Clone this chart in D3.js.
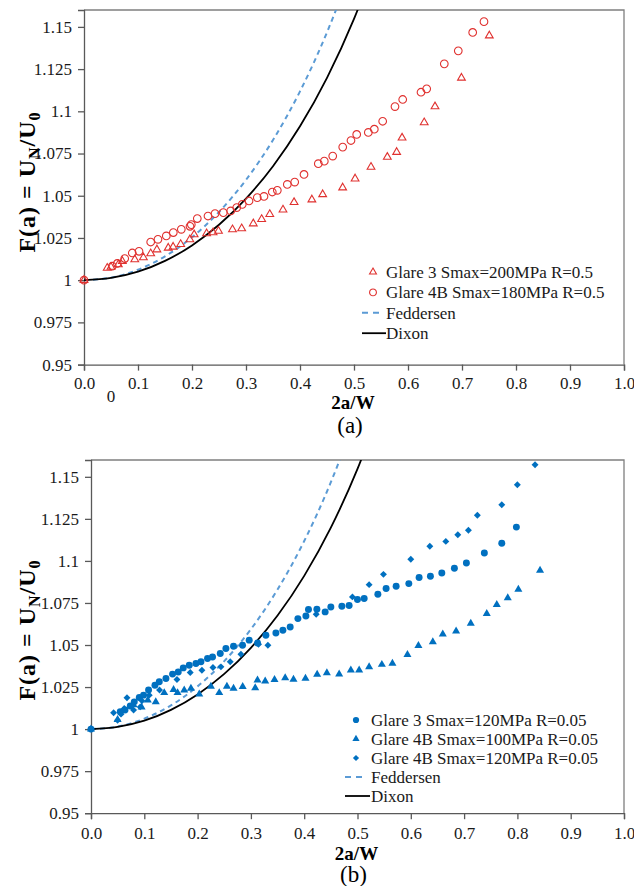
<!DOCTYPE html>
<html>
<head>
<meta charset="utf-8">
<script src="https://cdn.jsdelivr.net/npm/d3@7"></script>
<style>
  html, body { margin: 0; padding: 0; background: #fff; }
  svg { display: block; }
  svg text { font-family: "Liberation Serif", "Times New Roman", Tinos, "DejaVu Serif", serif; }
</style>
</head>
<body>
<script>
// ---- shared axis data ----
const xTicks = [0, 0.1, 0.2, 0.3, 0.4, 0.5, 0.6, 0.7, 0.8, 0.9, 1.0];
const yTicks = [0.95, 0.975, 1, 1.025, 1.05, 1.075, 1.1, 1.125, 1.15];
const yTickLabels = ["0.95", "0.975", "1", "1.025", "1.05", "1.075", "1.1", "1.125", "1.15"];

// ---- reference curves (2a/W, F) ----
const curveX = [0, 0.05, 0.1, 0.15, 0.2, 0.25, 0.3, 0.35, 0.4, 0.45, 0.5, 0.55];
const dixonY = [1, 1.0013, 1.0050, 1.0114, 1.0206, 1.0328, 1.0483, 1.0675, 1.0911, 1.1198, 1.1547, 1.1974];
const feddersenY = [1, 1.0015, 1.0062, 1.0141, 1.0254, 1.0404, 1.0594, 1.0830, 1.1118, 1.1468, 1.1892, 1.2400];

// ---- panel (a): R = 0.5 ----
const glare3_200 = [
  [0, 1.000], [0.043, 1.0072], [0.050, 1.0078], [0.0635, 1.0093], [0.071, 1.0112], [0.094, 1.0122],
  [0.110, 1.0134], [0.1235, 1.0158], [0.135, 1.0181], [0.156, 1.0191], [0.165, 1.0197], [0.179, 1.0213],
  [0.196, 1.0241], [0.204, 1.0270], [0.227, 1.0276], [0.239, 1.0282], [0.249, 1.0291], [0.275, 1.0300],
  [0.292, 1.0306], [0.3135, 1.0335], [0.329, 1.0361], [0.344, 1.0390], [0.3685, 1.0417], [0.389, 1.0461],
  [0.422, 1.0477], [0.442, 1.0508], [0.479, 1.0548], [0.502, 1.0601], [0.5315, 1.0670], [0.5617, 1.0729],
  [0.579, 1.0758], [0.589, 1.0843], [0.630, 1.0934], [0.650, 1.1028], [0.699, 1.1198], [0.7506, 1.1448]
];
const glare4B_180 = [
  [0, 1.000], [0.0524, 1.0083], [0.0617, 1.0099], [0.0754, 1.0128], [0.0894, 1.0161], [0.1019, 1.0171],
  [0.1235, 1.0226], [0.137, 1.0242], [0.1524, 1.0262], [0.1654, 1.0282], [0.1802, 1.0301], [0.1963, 1.0319],
  [0.1987, 1.0329], [0.2098, 1.0365], [0.2296, 1.0380], [0.2426, 1.0394], [0.258, 1.0400], [0.2717, 1.0410],
  [0.2828, 1.0430], [0.2931, 1.0449], [0.3056, 1.0469], [0.3209, 1.0489], [0.3333, 1.0496], [0.3487, 1.0522],
  [0.358, 1.0532], [0.3765, 1.0567], [0.3902, 1.0581], [0.4074, 1.0626], [0.4339, 1.0690], [0.445, 1.0705],
  [0.4606, 1.0735], [0.4791, 1.0788], [0.4944, 1.0827], [0.505, 1.0863], [0.5265, 1.0875], [0.5376, 1.0894],
  [0.5531, 1.0941], [0.5759, 1.1028], [0.5902, 1.1070], [0.6241, 1.1113], [0.6346, 1.1133], [0.6672, 1.1281],
  [0.6931, 1.1358], [0.7198, 1.1467], [0.7407, 1.1531]
];

// ---- panel (b): R = 0.05 ----
const glare3_120 = [
  [0, 1.000], [0.0549, 1.0103], [0.0638, 1.0113], [0.0737, 1.0137], [0.0812, 1.0162], [0.0906, 1.0188],
  [0.0986, 1.0202], [0.108, 1.0232], [0.120, 1.0261], [0.1281, 1.0281], [0.1406, 1.0301], [0.153, 1.0327],
  [0.1637, 1.0340], [0.1731, 1.0364], [0.1843, 1.0380], [0.1969, 1.0390], [0.2063, 1.0400], [0.2186, 1.0420],
  [0.228, 1.0429], [0.2425, 1.0450], [0.2531, 1.0479], [0.2674, 1.0493], [0.2843, 1.0499], [0.2968, 1.0529],
  [0.3124, 1.0512], [0.3281, 1.0558], [0.3469, 1.0572], [0.360, 1.0588], [0.3737, 1.0607], [0.3882, 1.0657],
  [0.4032, 1.0673], [0.408, 1.0711], [0.4238, 1.0713], [0.4393, 1.0697], [0.450, 1.0726], [0.4707, 1.0730],
  [0.4843, 1.0735], [0.4999, 1.0770], [0.5125, 1.0776], [0.5382, 1.0802], [0.5537, 1.0836], [0.5725, 1.0849],
  [0.5963, 1.0865], [0.6156, 1.0901], [0.6368, 1.0909], [0.6582, 1.0928], [0.6818, 1.0956], [0.7043, 1.0988],
  [0.738, 1.1047], [0.7707, 1.1105], [0.7981, 1.1201]
];
const glare4B_100 = [
  [0, 1.000], [0.0499, 1.0056], [0.0799, 1.0143], [0.0949, 1.0131], [0.1065, 1.0172], [0.1215, 1.0162],
  [0.1374, 1.0216], [0.1549, 1.0235], [0.1624, 1.0216], [0.1749, 1.0232], [0.1875, 1.0242], [0.2031, 1.0208],
  [0.225, 1.0254], [0.2406, 1.0216], [0.255, 1.0254], [0.2674, 1.0242], [0.2846, 1.0252], [0.3081, 1.0245],
  [0.3124, 1.0291], [0.3268, 1.0285], [0.3443, 1.0294], [0.3643, 1.0305], [0.3799, 1.0295], [0.4024, 1.0301],
  [0.4243, 1.0325], [0.4425, 1.0334], [0.4656, 1.0327], [0.4875, 1.0350], [0.5031, 1.0350], [0.5218, 1.0370],
  [0.5457, 1.0384], [0.5655, 1.0390], [0.5937, 1.0442], [0.6143, 1.0496], [0.6413, 1.0518], [0.660, 1.0564],
  [0.685, 1.0582], [0.7125, 1.0628], [0.7425, 1.0687], [0.7613, 1.0740], [0.7819, 1.0780], [0.8018, 1.0831],
  [0.8425, 1.0944]
];
const glare4B_120 = [
  [0, 1.000], [0.0424, 1.0097], [0.0499, 1.0053], [0.0563, 1.0089], [0.0624, 1.0123], [0.0675, 1.0186],
  [0.0799, 1.0113], [0.0924, 1.0132], [0.0956, 1.0168], [0.1093, 1.0202], [0.1286, 1.0232], [0.1613, 1.0295],
  [0.1862, 1.0337], [0.2081, 1.0350], [0.2288, 1.0366], [0.2438, 1.0370], [0.2612, 1.0400], [0.2813, 1.0445],
  [0.3143, 1.0505], [0.3319, 1.0499], [0.4225, 1.0683], [0.4905, 1.0786], [0.5218, 1.0859], [0.5487, 1.0920],
  [0.600, 1.1010], [0.6357, 1.1087], [0.6657, 1.1116], [0.6882, 1.1156], [0.7081, 1.1182], [0.7249, 1.1271],
  [0.7707, 1.1334], [0.7999, 1.1453], [0.8331, 1.1572]
];

const RED = "#e0312f";
const BLUE = "#0070c0";
const DASH_BLUE = "#5b9bd5";
const FONT = "\"Liberation Serif\", \"Times New Roman\", Tinos, \"DejaVu Serif\", serif";

const svg = d3.select("body").append("svg")
  .attr("width", 634).attr("height", 886)
  .attr("font-family", FONT);
svg.append("rect").attr("width", 634).attr("height", 886).attr("fill", "#fff");

const curvePts = (ys) => curveX.map((x, i) => [x, ys[i]]);

function drawPanel(cfg) {
  const x = d3.scaleLinear().domain([0, 1]).range([cfg.left, cfg.right]);
  const y = d3.scaleLinear().domain([0.95, 1.16]).range([cfg.bottom, cfg.top]);
  const g = svg.append("g");

  // frame (top and right)
  g.append("path")
    .attr("d", `M${cfg.left},${cfg.top}H${cfg.right}V${cfg.bottom}`)
    .attr("fill", "none").attr("stroke", "#7f7f7f").attr("stroke-width", 1.3);

  // axes
  const xAxis = g.append("g").attr("transform", `translate(0,${cfg.bottom})`)
    .call(d3.axisBottom(x).tickValues(xTicks).tickFormat(d3.format(".1f"))
      .tickSizeOuter(0).tickSize(6).tickPadding(cfg.xPad));
  const yAxis = g.append("g").attr("transform", `translate(${cfg.left},0)`)
    .call(d3.axisLeft(y).tickValues(yTicks).tickFormat((d, i) => yTickLabels[i])
      .tickSizeOuter(0).tickSize(6).tickPadding(6));
  [xAxis, yAxis].forEach(a => {
    a.attr("font-family", FONT);
    a.select(".domain").attr("stroke", "#595959").attr("stroke-width", 1.3);
    a.selectAll(".tick line").attr("stroke", "#595959").attr("stroke-width", 1.3);
    a.selectAll(".tick text").attr("fill", "#1a1a1a").attr("font-size", 17);
  });
  xAxis.selectAll(".tick text").attr("dy", "0.71em");

  // clip for curves
  const clipId = "clip-" + cfg.id;
  svg.append("clipPath").attr("id", clipId).append("rect")
    .attr("x", cfg.left).attr("y", cfg.top)
    .attr("width", cfg.right - cfg.left).attr("height", cfg.bottom - cfg.top);

  const line = d3.line().x(d => x(d[0])).y(d => y(d[1])).curve(d3.curveMonotoneX);
  const curves = g.append("g").attr("clip-path", `url(#${clipId})`);
  curves.append("path").attr("d", line(curvePts(feddersenY)))
    .attr("fill", "none").attr("stroke", DASH_BLUE).attr("stroke-width", 2)
    .attr("stroke-dasharray", "5,4");
  curves.append("path").attr("d", line(curvePts(dixonY)))
    .attr("fill", "none").attr("stroke", "#000").attr("stroke-width", 1.8);

  // markers
  cfg.series.forEach(s => {
    g.append("g").selectAll("path").data(s.data).join("path")
      .attr("d", d3.symbol().type(s.type).size(s.size))
      .attr("transform", d => `translate(${x(d[0])},${y(d[1])})` + (s.rotate ? " rotate(45)" : ""))
      .attr("fill", s.fill).attr("stroke", s.stroke).attr("stroke-width", s.sw || 0);
  });

  // legend
  const lg = g.append("g").attr("font-size", 17);
  cfg.series.forEach((s, i) => {
    const ly = cfg.legY + i * cfg.legStep;
    lg.append("path")
      .attr("d", d3.symbol().type(s.type).size(s.size * 0.8))
      .attr("transform", `translate(${cfg.legMarkX},${ly})` + (s.rotate ? " rotate(45)" : ""))
      .attr("fill", s.fill).attr("stroke", s.stroke).attr("stroke-width", s.sw || 0);
    lg.append("text").attr("x", cfg.legTextX).attr("y", ly).attr("dy", "0.35em")
      .attr("fill", "#1a1a1a").text(s.name);
  });
  const nS = cfg.series.length;
  const fy = cfg.legY + nS * cfg.legStep;
  const dy = fy + cfg.legStep;
  lg.append("line").attr("x1", cfg.legLineX0).attr("x2", cfg.legLineX1 - 4).attr("y1", fy).attr("y2", fy)
    .attr("stroke", DASH_BLUE).attr("stroke-width", 2).attr("stroke-dasharray", "6,5");
  lg.append("text").attr("x", cfg.legTextX).attr("y", fy).attr("dy", "0.35em").attr("fill", "#1a1a1a").text("Feddersen");
  lg.append("line").attr("x1", cfg.legLineX0).attr("x2", cfg.legLineX1).attr("y1", dy).attr("y2", dy)
    .attr("stroke", "#000").attr("stroke-width", 1.8);
  lg.append("text").attr("x", cfg.legTextX).attr("y", dy).attr("dy", "0.35em").attr("fill", "#1a1a1a").text("Dixon");

  // axis titles
  g.append("text").attr("x", (cfg.left + cfg.right) / 2 - 1).attr("y", cfg.xTitleY)
    .attr("text-anchor", "middle").attr("font-size", 19).attr("font-weight", "bold")
    .text("2a/W");
  g.append("text").attr("x", (cfg.left + cfg.right) / 2 - 4).attr("y", cfg.capY)
    .attr("text-anchor", "middle").attr("font-size", 23).text(cfg.caption);

  const yt = g.append("text")
    .attr("transform", `translate(${cfg.yTitleX},${cfg.yTitleY}) rotate(-90)`)
    .attr("text-anchor", "middle").attr("font-size", 24).attr("font-weight", "bold")
    .attr("letter-spacing", 1);
  yt.append("tspan").text("F(a) = U");
  yt.append("tspan").attr("dy", 5).attr("font-size", 16).text("N");
  yt.append("tspan").attr("dy", -5).text("/U");
  yt.append("tspan").attr("dy", 5).attr("font-size", 16).text("0");

  return { x, y, g };
}

const pa = drawPanel({
  id: "a", left: 84, right: 624, top: 10, bottom: 364.6, xPad: 6,
  xTitleY: 408.5, capY: 433, caption: "(a)", yTitleX: 35, yTitleY: 182,
  legY: 272, legStep: 20.4, legMarkX: 373, legTextX: 386, legLineX0: 362, legLineX1: 386,
  series: [
    { name: "Glare 3 Smax=200MPa R=0.5", data: glare3_200, type: d3.symbolTriangle, size: 26,
      fill: "none", stroke: RED, sw: 1.1 },
    { name: "Glare 4B Smax=180MPa R=0.5", data: glare4B_180, type: d3.symbolCircle, size: 46,
      fill: "none", stroke: RED, sw: 1.1 }
  ]
});
// stray axis label under the origin
pa.g.append("text").attr("x", 111).attr("y", 402).attr("text-anchor", "middle")
  .attr("font-size", 17).attr("fill", "#1a1a1a").text("0");

drawPanel({
  id: "b", left: 91, right: 624, top: 460, bottom: 813.2, xPad: 7.5,
  xTitleY: 859.5, capY: 882, caption: "(b)", yTitleX: 35, yTitleY: 630,
  legY: 720, legStep: 19, legMarkX: 356, legTextX: 371, legLineX0: 345, legLineX1: 370,
  series: [
    { name: "Glare 3 Smax=120MPa R=0.05", data: glare3_120, type: d3.symbolCircle, size: 38,
      fill: BLUE, stroke: "none" },
    { name: "Glare 4B Smax=100MPa R=0.05", data: glare4B_100, type: d3.symbolTriangle, size: 28,
      fill: BLUE, stroke: "none" },
    { name: "Glare 4B Smax=120MPa R=0.05", data: glare4B_120, type: d3.symbolSquare, size: 24,
      fill: BLUE, stroke: "none", rotate: true }
  ]
});
</script>
</body>
</html>
